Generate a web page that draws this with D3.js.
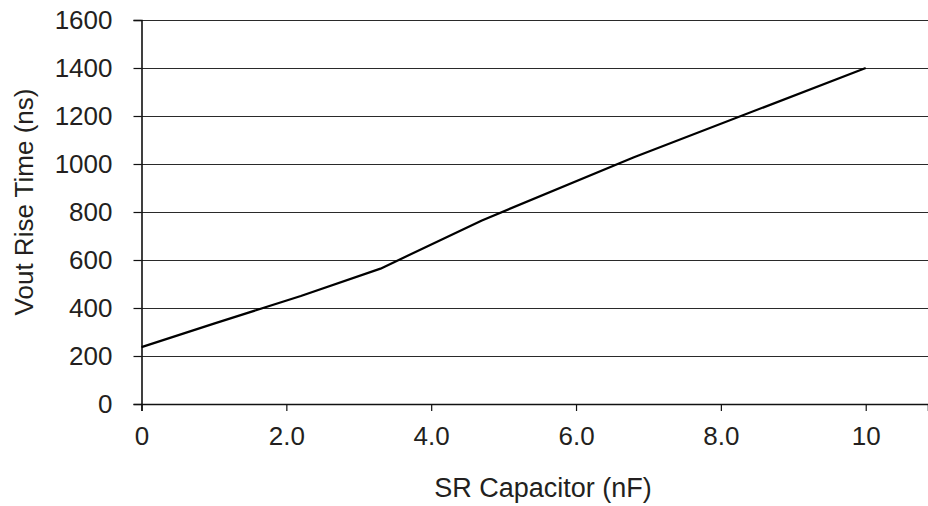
<!DOCTYPE html>
<html>
<head>
<meta charset="utf-8">
<script src="https://cdn.jsdelivr.net/npm/d3@7"></script>
<style>
  body { margin: 0; background: #fff; }
  svg { display: block; font-family: "Liberation Sans", Arial, sans-serif; }
</style>
</head>
<body>
<div id="chart"></div>
<script>
// Values
const capNF = [0, 1.0, 2.2, 3.3, 4.7, 6.8, 10];
const riseNs = [237, 335, 450, 564, 765, 1028, 1400];
const xTicks = [0, 2, 4, 6, 8, 10];
const xTickLabels = ["0", "2.0", "4.0", "6.0", "8.0", "10"];
const yTicks = [0, 200, 400, 600, 800, 1000, 1200, 1400, 1600];

const width = 928, height = 506;
const margin = { top: 20, right: 0, bottom: 102, left: 141.5 };
const textColor = "#231f20";

const svg = d3.select("#chart").append("svg")
    .attr("width", width)
    .attr("height", height);

const x = d3.scaleLinear()
    .domain([0, 10.86])
    .range([margin.left, width - margin.right]);

const y = d3.scaleLinear()
    .domain([0, 1600])
    .range([height - margin.bottom, margin.top]);

// Horizontal grid lines
svg.append("g")
    .selectAll("line")
    .data(yTicks.filter(d => d > 0))
    .enter()
    .append("line")
    .attr("x1", margin.left)
    .attr("x2", width - margin.right)
    .attr("y1", d => Math.round(y(d)) + 0.5)
    .attr("y2", d => Math.round(y(d)) + 0.5)
    .attr("stroke", "#2a2a2a")
    .attr("stroke-width", 1.2);

// Y axis
const yAxis = svg.append("g")
    .attr("transform", `translate(${margin.left},0)`)
    .call(d3.axisLeft(y).tickValues(yTicks).tickSize(8).tickPadding(21).tickFormat(d3.format("d")));

// X axis
const xAxis = svg.append("g")
    .attr("transform", `translate(0,${y(0)})`)
    .call(d3.axisBottom(x).tickValues(xTicks).tickSize(7).tickPadding(16)
        .tickFormat((d, i) => xTickLabels[i]));

[yAxis, xAxis].forEach(g => {
    g.select(".domain").attr("stroke", "#111").attr("stroke-width", 1.6);
    g.selectAll(".tick line").attr("stroke", "#111").attr("stroke-width", 1.2);
    g.selectAll(".tick text")
        .attr("fill", textColor)
        .style("font-size", "26px");
});

// Rise time curve
const line = d3.line()
    .x((d, i) => x(capNF[i]))
    .y(d => y(d));

svg.append("path")
    .datum(riseNs)
    .attr("d", line)
    .attr("fill", "none")
    .attr("stroke", "#000")
    .attr("stroke-width", 2.2)
    .attr("stroke-linejoin", "round");

// Axis titles
svg.append("text")
    .attr("x", 543)
    .attr("y", 497)
    .attr("text-anchor", "middle")
    .attr("fill", textColor)
    .style("font-size", "27px")
    .text("SR Capacitor (nF)");

svg.append("text")
    .attr("transform", "translate(33,202) rotate(-90)")
    .attr("text-anchor", "middle")
    .attr("fill", textColor)
    .style("font-size", "26px")
    .text("Vout Rise Time (ns)");
</script>
</body>
</html>
